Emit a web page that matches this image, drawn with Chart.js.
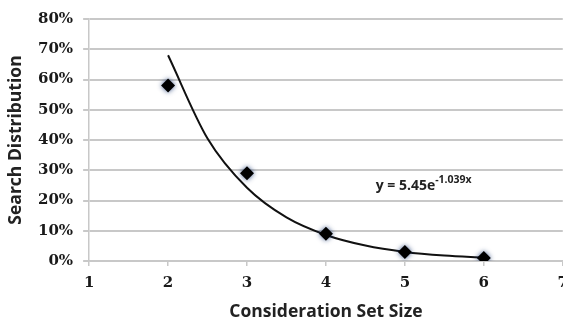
<!DOCTYPE html>
<html>
<head>
<meta charset="utf-8">
<script src="https://cdn.jsdelivr.net/npm/chart.js@4.4.0/dist/chart.umd.min.js"></script>
<style>
  html, body { margin: 0; padding: 0; background: #fff; overflow: hidden; }
  #wrap { position: relative; width: 576px; height: 323px; }
</style>
</head>
<body>
<div id="wrap"><canvas id="myChart"></canvas></div>
<script>
// consideration set size vs share of searches
const setSizes = [2, 3, 4, 5, 6];
const searchShare = [0.58, 0.29, 0.09, 0.03, 0.01];

// fitted exponential trend
const trendX = [2, 2.5, 3, 3.5, 4, 4.5, 5, 5.5, 6];
const trendY = [0.68, 0.405, 0.242, 0.144, 0.086, 0.051, 0.030, 0.018, 0.011];

const xTicks = [1, 2, 3, 4, 5, 6, 7];
const yTicks = [0, 0.1, 0.2, 0.3, 0.4, 0.5, 0.6, 0.7, 0.8];
const trendLabel = 'y = 5.45e';
const trendExp = '-1.039x';

const tickFont = { family: 'DejaVu Serif', size: 15, weight: 'bold' };
const titleFont = { family: 'Open Sans', size: 17.5, weight: 'bold' };

const shadowPlugin = {
    id: 'markerShadow',
    beforeDatasetDraw(chart, args) {
        if (args.index !== 1) return;
        const ctx = chart.ctx;
        ctx.save();
        ctx.shadowColor = 'rgba(20, 50, 110, 0.8)';
        ctx.shadowBlur = 5;
    },
    afterDatasetDraw(chart, args) {
        if (args.index !== 1) return;
        chart.ctx.restore();
    }
};

const equationPlugin = {
    id: 'equation',
    afterDatasetsDraw(chart) {
        const ctx = chart.ctx;
        const x = chart.scales.x.getPixelForValue(4.63);
        const y = chart.scales.y.getPixelForValue(0.236);
        ctx.save();
        ctx.fillStyle = '#222';
        ctx.textBaseline = 'alphabetic';
        ctx.font = 'bold 14px "Open Sans"';
        ctx.fillText(trendLabel, x, y);
        const w = ctx.measureText(trendLabel).width;
        ctx.font = 'bold 10.5px "Open Sans"';
        ctx.fillText(trendExp, x + w, y - 7);
        ctx.restore();
    }
};

function getChart(){
    const ctx = document.getElementById('myChart');

    new Chart(ctx, {
        type: 'scatter',
        data: {
            datasets: [{
                label: 'Trend',
                data: trendX.map((x, i) => ({ x: x, y: trendY[i] })),
                showLine: true,
                borderColor: '#111',
                borderWidth: 2,
                pointRadius: 0,
                cubicInterpolationMode: 'monotone',
                order: 2
            }, {
                label: 'Search Distribution',
                data: setSizes.map((x, i) => ({ x: x, y: searchShare[i] })),
                pointStyle: 'rectRot',
                pointRadius: 7,
                backgroundColor: '#000',
                borderColor: '#000',
                borderWidth: 0,
                order: 1
            }]
        },
        options: {
            responsive: false,
            animation: false,
            layout: { padding: { top: 4, left: 6, right: 0, bottom: 0 } },
            plugins: {
                legend: { display: false },
                tooltip: { enabled: false }
            },
            scales: {
                x: {
                    type: 'linear',
                    min: 1,
                    max: 7,
                    afterBuildTicks: (axis) => { axis.ticks = xTicks.map(v => ({ value: v })); },
                    grid: { drawOnChartArea: false, color: '#c8c8c8', lineWidth: 1.5, tickLength: 5 },
                    border: { color: '#c8c8c8', width: 1.5 },
                    ticks: { font: tickFont, color: '#1a1a1a', padding: 8, maxRotation: 0 },
                    title: { display: true, text: 'Consideration Set Size', font: titleFont, color: '#222', padding: { top: 2, bottom: 0 } }
                },
                y: {
                    min: 0,
                    max: 0.8,
                    afterBuildTicks: (axis) => { axis.ticks = yTicks.map(v => ({ value: v })); },
                    grid: { color: '#c8c8c8', lineWidth: 2, tickLength: 6 },
                    border: { color: '#c8c8c8', width: 1.5 },
                    ticks: {
                        font: tickFont,
                        color: '#1a1a1a',
                        padding: 10,
                        callback: (v) => Math.round(v * 100) + '%'
                    },
                    title: { display: true, text: 'Search Distribution', font: titleFont, color: '#222', padding: { top: 0, bottom: 1 } }
                }
            }
        },
        plugins: [shadowPlugin, equationPlugin]
    });
}

document.addEventListener('DOMContentLoaded', (event) => {
    const c = document.getElementById('myChart');
    c.width = 576;
    c.height = 323;
    getChart();
});
</script>
</body>
</html>
